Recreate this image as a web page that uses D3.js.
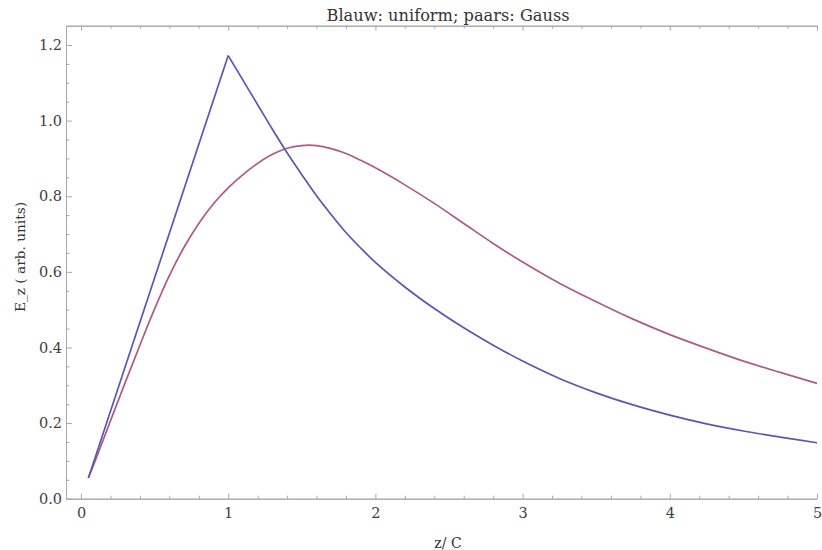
<!DOCTYPE html>
<html>
<head>
<meta charset="utf-8">
<script src="https://cdn.jsdelivr.net/npm/d3@7/dist/d3.min.js"></script>
<style>
body { margin: 0; background: #fff; }
svg text { font-family: "DejaVu Serif", "Liberation Serif", serif; }
</style>
</head>
<body>
<script>
// blauw: uniforme verdeling
var uniformZ = [0.05, 1.0, 1.1, 1.2, 1.3, 1.4, 1.5, 1.6, 1.7, 1.8, 1.9, 2.0, 2.2, 2.4, 2.6, 2.8, 3.0, 3.25, 3.5, 3.75, 4.0, 4.25, 4.5, 4.75, 5.0];
var uniformE = [0.055, 1.172, 1.107, 1.042, 0.977, 0.915, 0.857, 0.801, 0.751, 0.704, 0.663, 0.625, 0.560, 0.503, 0.452, 0.406, 0.364, 0.318, 0.280, 0.248, 0.221, 0.198, 0.179, 0.163, 0.148];

// paars: Gauss verdeling
var gaussZ = [0.05, 0.1, 0.2, 0.3, 0.4, 0.5, 0.6, 0.7, 0.8, 0.9, 1.0, 1.1, 1.2, 1.3, 1.4, 1.5, 1.6, 1.7, 1.8, 1.9, 2.0, 2.2, 2.4, 2.6, 2.8, 3.0, 3.25, 3.5, 3.75, 4.0, 4.25, 4.5, 4.75, 5.0];
var gaussE = [0.055, 0.104, 0.206, 0.307, 0.406, 0.502, 0.590, 0.665, 0.728, 0.780, 0.822, 0.857, 0.887, 0.911, 0.927, 0.934, 0.934, 0.926, 0.913, 0.895, 0.875, 0.830, 0.781, 0.728, 0.675, 0.626, 0.570, 0.521, 0.475, 0.434, 0.398, 0.364, 0.334, 0.305];

var xTicks = [0, 1, 2, 3, 4, 5];
var yTicks = [0, 0.2, 0.4, 0.6, 0.8, 1.0, 1.2];

var width = 822,
    height = 550;

var x = d3.scaleLinear()
    .domain([-0.102, 5.0])
    .range([66, 817]);

var y = d3.scaleLinear()
    .domain([0, 1.251])
    .range([498.7, 25.7]);

var xMinor = d3.range(-0.2, 5.01, 0.2).filter(function (d) {
    return d > x.domain()[0] && Math.abs(d - Math.round(d)) > 0.01;
});
var yMinor = d3.range(0.05, 1.25, 0.05).filter(function (d) {
    return Math.abs(d * 5 - Math.round(d * 5)) > 0.01;
});

var svg = d3.select("body").append("svg")
    .attr("width", width)
    .attr("height", height);

var frame = svg.append("g");

// assen als frame: onder, links, boven
frame.append("g")
    .attr("transform", "translate(0," + y(0) + ")")
    .call(d3.axisBottom(x).tickValues(xTicks).tickSizeInner(-5).tickSizeOuter(0).tickPadding(9).tickFormat(d3.format("d")));
frame.append("g")
    .attr("transform", "translate(0," + y(0) + ")")
    .call(d3.axisBottom(x).tickValues(xMinor).tickSizeInner(-3).tickSizeOuter(0).tickFormat(""));

frame.append("g")
    .attr("transform", "translate(" + x.range()[0] + ",0)")
    .call(d3.axisLeft(y).tickValues(yTicks).tickSizeInner(-6).tickSizeOuter(0).tickPadding(4).tickFormat(d3.format(".1f")));
frame.append("g")
    .attr("transform", "translate(" + x.range()[0] + ",0)")
    .call(d3.axisLeft(y).tickValues(yMinor).tickSizeInner(-3.5).tickSizeOuter(0).tickFormat(""));

frame.append("g")
    .attr("transform", "translate(0," + y.range()[1] + ")")
    .call(d3.axisTop(x).tickValues(xTicks).tickSizeInner(-5).tickSizeOuter(0).tickFormat(""));
frame.append("g")
    .attr("transform", "translate(0," + y.range()[1] + ")")
    .call(d3.axisTop(x).tickValues(xMinor).tickSizeInner(-3).tickSizeOuter(0).tickFormat(""));

frame.selectAll("g")
    .attr("font-family", null);
frame.selectAll(".domain, .tick line")
    .attr("stroke", "#a8a8a8");
frame.selectAll(".tick text")
    .attr("fill", "#404040")
    .attr("font-size", 14.5);

// lijnen
var line = d3.line()
    .x(function (d) { return x(d[0]); })
    .y(function (d) { return y(d[1]); });

var uniform = uniformZ.map(function (z, i) { return [z, uniformE[i]]; });
var gauss = gaussZ.map(function (z, i) { return [z, gaussE[i]]; });
var peak = d3.maxIndex(uniformE);

svg.append("path")
    .datum(gauss)
    .attr("fill", "none")
    .attr("stroke", "#b05a86")
    .attr("stroke-width", 1.7)
    .attr("d", line.curve(d3.curveCatmullRom.alpha(0.5)));

svg.append("path")
    .datum(uniform.slice(0, peak + 1))
    .attr("fill", "none")
    .attr("stroke", "#5858b2")
    .attr("stroke-width", 1.7)
    .attr("d", line.curve(d3.curveLinear));

svg.append("path")
    .datum(uniform.slice(peak))
    .attr("fill", "none")
    .attr("stroke", "#5858b2")
    .attr("stroke-width", 1.7)
    .attr("d", line.curve(d3.curveCatmullRom.alpha(0.5)));

// titel en aslabels
svg.append("text")
    .attr("x", 448)
    .attr("y", 21)
    .attr("text-anchor", "middle")
    .attr("font-size", 16)
    .attr("fill", "#333")
    .attr("textLength", 243)
    .attr("lengthAdjust", "spacingAndGlyphs")
    .text("Blauw: uniform; paars: Gauss");

svg.append("text")
    .attr("x", 448)
    .attr("y", 548)
    .attr("text-anchor", "middle")
    .attr("font-size", 14)
    .attr("fill", "#333")
    .text("z/ C");

svg.append("text")
    .attr("transform", "translate(25,257) rotate(-90)")
    .attr("text-anchor", "middle")
    .attr("font-size", 13)
    .attr("fill", "#333")
    .attr("textLength", 110)
    .attr("lengthAdjust", "spacingAndGlyphs")
    .text("E_z ( arb. units)");
</script>
</body>
</html>
